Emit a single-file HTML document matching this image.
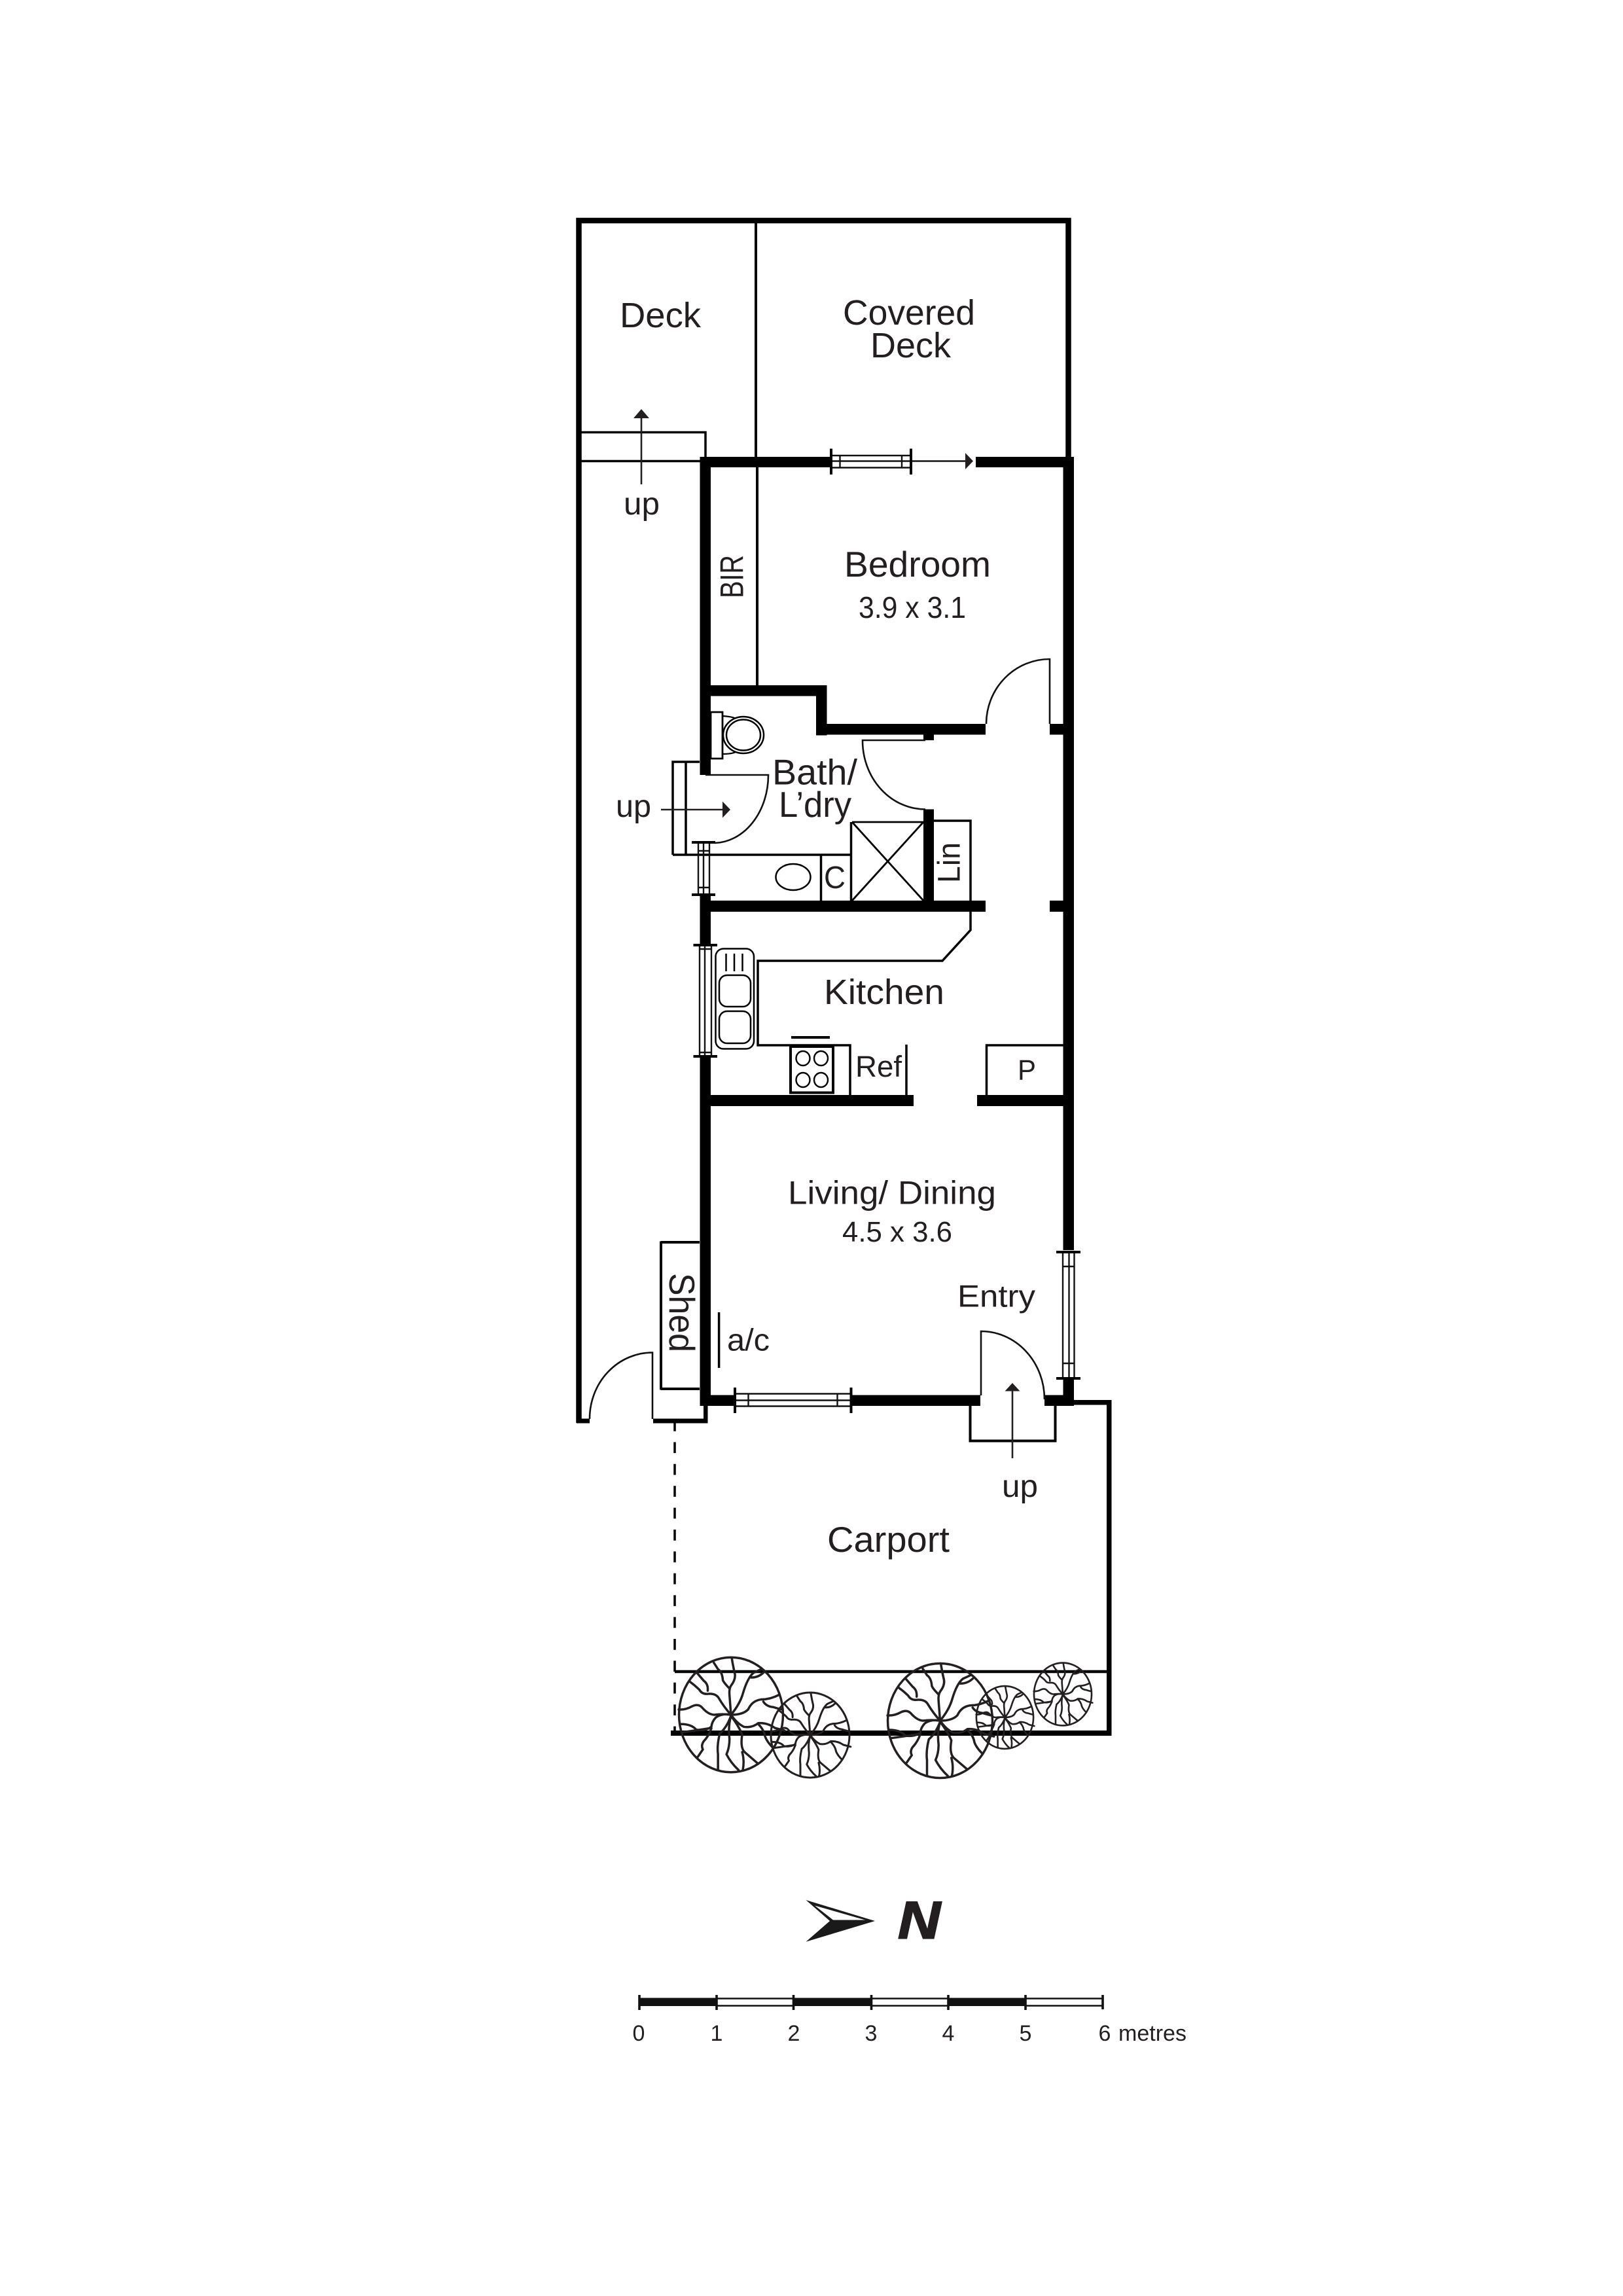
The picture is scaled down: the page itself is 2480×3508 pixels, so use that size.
<!DOCTYPE html>
<html><head><meta charset="utf-8"><style>
html,body{margin:0;padding:0;background:#fff}
svg{display:block}
text{font-family:"Liberation Sans",sans-serif;fill:#231f20}
</style></head><body>
<svg width="2480" height="3508" viewBox="0 0 2480 3508" xmlns="http://www.w3.org/2000/svg">
<defs>
<g id="tree" fill="none" stroke="#231f20" stroke-linejoin="round" stroke-linecap="round">
<ellipse cx="255" cy="420" rx="172" ry="262" vector-effect="non-scaling-stroke"/>
<path vector-effect="non-scaling-stroke" d="M255 420L250 330Q248 300 256 285Q270 260 268 235Q262 200 258 165M250 300Q232 275 228 262Q226 225 212 212L198 182"/>
<path vector-effect="non-scaling-stroke" d="M255 420Q285 370 295 320Q310 250 330 228L355 212M322 250Q345 250 362 228"/>
<path vector-effect="non-scaling-stroke" d="M255 420Q232 385 215 345Q205 320 175 325Q158 325 150 305Q135 285 118 268M178 310Q180 280 165 265L142 228"/>
<path vector-effect="non-scaling-stroke" d="M255 420Q225 415 200 420Q180 420 158 385Q145 368 125 382Q105 398 82 396"/>
<path vector-effect="non-scaling-stroke" d="M255 420Q295 420 312 395Q325 355 355 350Q385 350 415 328M362 360Q372 382 395 385Q410 392 424 396"/>
<path vector-effect="non-scaling-stroke" d="M255 420Q275 460 298 475Q325 480 345 458Q375 455 400 480L432 492M345 462Q365 490 368 520Q375 545 395 572"/>
<path vector-effect="non-scaling-stroke" d="M255 420Q225 412 205 432Q192 450 190 475Q170 495 140 488Q125 462 88 462M190 480Q145 490 92 500"/>
<path vector-effect="non-scaling-stroke" d="M190 482Q180 520 165 540Q155 560 162 578L145 612"/>
<path vector-effect="non-scaling-stroke" d="M255 425Q240 480 218 505Q208 560 212 600L212 672"/>
<path vector-effect="non-scaling-stroke" d="M255 425Q245 470 250 530Q250 570 240 600Q255 640 280 672"/>
<path vector-effect="non-scaling-stroke" d="M255 425Q280 470 292 510Q285 570 300 590L342 640M292 590Q300 630 294 672"/>
</g>
</defs>
<rect width="2480" height="3508" fill="#fff"/>

<!-- deck and lane outline -->
<g fill="none" stroke="#000">
<path stroke-width="8.5" d="M884.5 2174V337H1632.5V700"/>
<path stroke-width="4" d="M1155 340V700M1157 712V1048"/>
<path stroke-width="3.5" d="M887 660.5H1078V698M887 704.5H1072"/>
</g>

<!-- solid walls -->
<g fill="#000">
<rect x="1070" y="698" width="201" height="16"/>
<rect x="1491" y="698" width="150" height="16"/>
<rect x="1624.5" y="698" width="16.5" height="1212"/>
<rect x="1069.5" y="698" width="16.5" height="486"/>
<rect x="1069.5" y="1367" width="16.5" height="77"/>
<rect x="1069.5" y="1614" width="16.5" height="534"/>
<rect x="1070" y="1047" width="193.5" height="16.5"/>
<rect x="1247" y="1047" width="16.5" height="76.5"/>
<rect x="1247" y="1106" width="259" height="16.5"/>
<rect x="1604" y="1106" width="21" height="16.5"/>
<rect x="1411" y="1122" width="16" height="9"/>
<rect x="1411" y="1236.5" width="16" height="140"/>
<rect x="1070" y="1376" width="436" height="17"/>
<rect x="1604" y="1376" width="37" height="17"/>
<rect x="1070" y="1673" width="326" height="17"/>
<rect x="1493" y="1673" width="132" height="17"/>
<rect x="1070" y="2131.5" width="52" height="16.5"/>
<rect x="1300" y="2131.5" width="198" height="16.5"/>
<rect x="1596" y="2131.5" width="45" height="16.5"/>
<rect x="1624.5" y="2106" width="16.5" height="42"/>
<rect x="998" y="2167.5" width="83" height="7"/>
<rect x="1075" y="2147" width="6.5" height="27.5"/>
<rect x="881" y="2167.5" width="20" height="7"/>
<rect x="1025" y="2644" width="673" height="8"/>
<rect x="1691" y="2139" width="7.5" height="513"/>
<rect x="1640" y="2139" width="58" height="7.5"/>
</g>

<!-- fixtures -->
<g fill="none" stroke="#000" stroke-width="3.5">
<path d="M1028 1306V1164H1069M1048 1164V1306M1028 1306H1301"/>
<path d="M1254.5 1306V1376M1300.5 1256V1376"/>
<path d="M1302 1256H1411M1302 1376L1411 1256M1302 1256L1411 1376" stroke-width="2.8"/>
<path d="M1427 1254H1483V1376"/>
<path d="M1483 1393V1421L1440 1468H1158V1597H1299V1674"/>
<path d="M1385 1596V1674M1507.5 1674V1597H1625"/>
<path d="M1010 1898H1069M1010 1896.5V2123.5M1010 2122H1069" stroke-width="4"/>
<path d="M1098.6 2005V2090"/>
<path d="M1482.5 2148V2201.5H1612.5V2148" stroke-width="4"/>
<path d="M1031 2554H1692" stroke-width="4.5"/>
<path d="M1031 2170V2650" stroke-width="3.5" stroke-dasharray="16.7 16.7"/>
<ellipse cx="1212" cy="1340" rx="26.5" ry="20" stroke-width="2.5"/>
<path d="M1086 1088H1104V1159H1086Z" stroke-width="2.8"/>
<ellipse cx="1136" cy="1123" rx="31" ry="28" stroke-width="2.5"/>
<ellipse cx="1136" cy="1123" rx="26" ry="23.5" stroke-width="2.5"/>
<path d="M1104 1094Q1120 1095 1124 1098M1104 1152Q1118 1152 1124 1149" stroke-width="2.2"/>
<rect x="1093.5" y="1449.5" width="58.5" height="153" rx="12" stroke-width="2.5"/>
<rect x="1099" y="1490" width="48" height="48" rx="12" stroke-width="2.5"/>
<rect x="1099" y="1545" width="48" height="49" rx="12" stroke-width="2.5"/>
<path d="M1109.5 1457V1484M1122 1457V1484M1134.5 1457V1484" stroke-width="2.5"/>
<rect x="1208" y="1599" width="65" height="70.5" stroke-width="4"/>
<path d="M1209 1585H1268" stroke-width="4"/>
<g stroke-width="2.4">
<ellipse cx="1227" cy="1617" rx="10.5" ry="11"/><ellipse cx="1254.5" cy="1617" rx="10.5" ry="11"/>
<ellipse cx="1227" cy="1650" rx="10.5" ry="11"/><ellipse cx="1254.5" cy="1650" rx="10.5" ry="11"/>
</g>
</g>

<!-- doors -->
<g fill="none" stroke="#111" stroke-width="2.6">
<path d="M1604 1106V1007A97 99 0 0 0 1507 1106"/>
<path d="M1414 1131H1318A96 105 0 0 0 1414 1236.5"/>
<path d="M1078 1184H1174A84 104 0 0 1 1092 1288"/>
<path d="M997 2168V2066.5A96 101 0 0 0 901 2168"/>
<path d="M1499 2132V2034A97 104 0 0 1 1596 2138"/>
</g>

<!-- windows -->
<g fill="none" stroke="#111" stroke-width="2.4">
<path d="M1272 696H1390M1272 704.5H1390M1272 714.5H1390M1283.5 696V714.5M1378 696V714.5"/>
<path d="M1392 704.5H1476"/>
<path d="M1067 1287V1367M1075 1287V1367M1084 1287V1367M1067 1300H1084M1067 1356H1084"/>
<path d="M1069 1444V1614M1077 1444V1614M1087 1444V1614M1069 1450H1087M1069 1608H1087"/>
<path d="M1123 2129.5H1300M1123 2139.5H1300M1123 2148.5H1300M1143.5 2129.5V2148.5M1279.5 2129.5V2148.5"/>
<path d="M1624 1913V2106M1633.5 1913V2106M1641.5 1913V2106M1624 1935H1641.5M1624 2083H1641.5"/>
<g stroke-width="4" stroke="#000">
<path d="M1270 685.5V725M1392 685.5V725"/>
<path d="M1057 1287H1093M1057 1367H1093"/>
<path d="M1059.5 1444H1096M1059.5 1614H1096"/>
<path d="M1123 2120V2159M1300.5 2120V2159"/>
<path d="M1614 1913H1651M1614 2106H1651"/>
</g>
</g>

<!-- arrows -->
<g fill="#231f20" stroke="#231f20">
<path d="M980 740V632" stroke-width="2.6" fill="none"/><path d="M980 625L992 639H968Z" stroke="none"/>
<path d="M1475 692L1487 704.5L1475 717Z" stroke="none"/>
<path d="M1010 1237H1106" stroke-width="2.6" fill="none"/><path d="M1116 1237L1104 1224.5V1249.5Z" stroke="none"/>
<path d="M1547 2228V2122" stroke-width="2.6" fill="none"/><path d="M1547 2113L1558.5 2125.5H1535.5Z" stroke="none"/>
</g>

<!-- labels -->
<g>
<text x="947" y="500" font-size="54" textLength="124" lengthAdjust="spacingAndGlyphs">Deck</text>
<text x="1288" y="496" font-size="54" textLength="202" lengthAdjust="spacingAndGlyphs">Covered</text>
<text x="1330" y="546" font-size="54" textLength="123" lengthAdjust="spacingAndGlyphs">Deck</text>
<text x="953" y="786" font-size="48" textLength="55" lengthAdjust="spacingAndGlyphs">up</text>
<text x="1290" y="881" font-size="55" textLength="224" lengthAdjust="spacingAndGlyphs">Bedroom</text>
<text x="1312" y="944" font-size="46" textLength="164" lengthAdjust="spacingAndGlyphs">3.9 x 3.1</text>
<text transform="translate(1135.5 914) rotate(-90)" font-size="50" textLength="66" lengthAdjust="spacingAndGlyphs">BIR</text>
<text x="1180" y="1198.5" font-size="55" textLength="130" lengthAdjust="spacingAndGlyphs">Bath/</text>
<text x="1190" y="1248" font-size="55" textLength="111" lengthAdjust="spacingAndGlyphs">L’dry</text>
<text x="941" y="1248" font-size="48" textLength="54" lengthAdjust="spacingAndGlyphs">up</text>
<text x="1259" y="1357" font-size="48" textLength="33" lengthAdjust="spacingAndGlyphs">C</text>
<text transform="translate(1466.5 1349) rotate(-90)" font-size="48" textLength="62" lengthAdjust="spacingAndGlyphs">Lin</text>
<text x="1259" y="1534" font-size="54" textLength="184" lengthAdjust="spacingAndGlyphs">Kitchen</text>
<text x="1307" y="1645" font-size="45" textLength="71" lengthAdjust="spacingAndGlyphs">Ref</text>
<text x="1555" y="1649.5" font-size="44" textLength="28" lengthAdjust="spacingAndGlyphs">P</text>
<text x="1204" y="1839.5" font-size="50" textLength="318" lengthAdjust="spacingAndGlyphs">Living/ Dining</text>
<text x="1287" y="1897" font-size="44" textLength="168" lengthAdjust="spacingAndGlyphs">4.5 x 3.6</text>
<text x="1463" y="1996.5" font-size="47" textLength="119" lengthAdjust="spacingAndGlyphs">Entry</text>
<text transform="translate(1023 1945) rotate(90)" font-size="55" textLength="121" lengthAdjust="spacingAndGlyphs">Shed</text>
<text x="1111" y="2063.5" font-size="47" textLength="65" lengthAdjust="spacingAndGlyphs">a/c</text>
<text x="1531" y="2287" font-size="48" textLength="55" lengthAdjust="spacingAndGlyphs">up</text>
<text x="1264" y="2371" font-size="55" textLength="187" lengthAdjust="spacingAndGlyphs">Carport</text>
</g>

<!-- trees -->
<use href="#tree" stroke-width="3.5" transform="translate(1117 2620) scale(0.462 0.335) translate(-255 -420)"/>
<use href="#tree" stroke-width="3" transform="translate(1238 2651) scale(0.349 0.248) translate(-255 -420)"/>
<use href="#tree" stroke-width="3.5" transform="translate(1436.5 2629) scale(0.465 0.334) translate(-255 -420)"/>
<use href="#tree" stroke-width="2.6" transform="translate(1535.5 2624) scale(0.2535 0.183) translate(-255 -420)"/>
<use href="#tree" stroke-width="2.6" transform="translate(1624 2588.5) scale(0.256 0.183) translate(-255 -420)"/>

<!-- north arrow -->
<path d="M1231.5 2903L1337 2935L1231.5 2966.7L1268 2935Z" fill="#1a1a1a"/>
<path d="M1245 2911.5L1322 2933.5L1273 2933.5Z" fill="#fff"/>
<text x="1372" y="2961.5" font-size="81" font-weight="bold" font-style="italic" stroke="#231f20" stroke-width="2" textLength="65" lengthAdjust="spacingAndGlyphs">N</text>

<!-- scale bar -->
<g fill="#111">
<rect x="977" y="3052.5" width="118" height="12.5"/>
<rect x="1212.5" y="3052.5" width="119" height="12.5"/>
<rect x="1449" y="3052.5" width="118" height="12.5"/>
</g>
<g fill="none" stroke="#111">
<path stroke-width="2.6" d="M1095 3053.5H1212.5M1095 3064.5H1212.5M1331.5 3053.5H1449M1331.5 3064.5H1449M1567 3053.5H1685M1567 3064.5H1685"/>
<path stroke-width="3.6" d="M977 3048V3071M1095 3048V3071M1212.5 3048V3071M1331.5 3048V3071M1449 3048V3071M1567 3048V3071M1685 3048V3070"/>
</g>
<g font-size="34" text-anchor="middle">
<text x="976" y="3118">0</text>
<text x="1095" y="3118">1</text>
<text x="1213" y="3118">2</text>
<text x="1331" y="3118">3</text>
<text x="1449" y="3118">4</text>
<text x="1567" y="3118">5</text>
<text x="1688" y="3118">6</text>
</g>
<text x="1709" y="3118" font-size="34" textLength="104" lengthAdjust="spacingAndGlyphs">metres</text>
</svg>
</body></html>
